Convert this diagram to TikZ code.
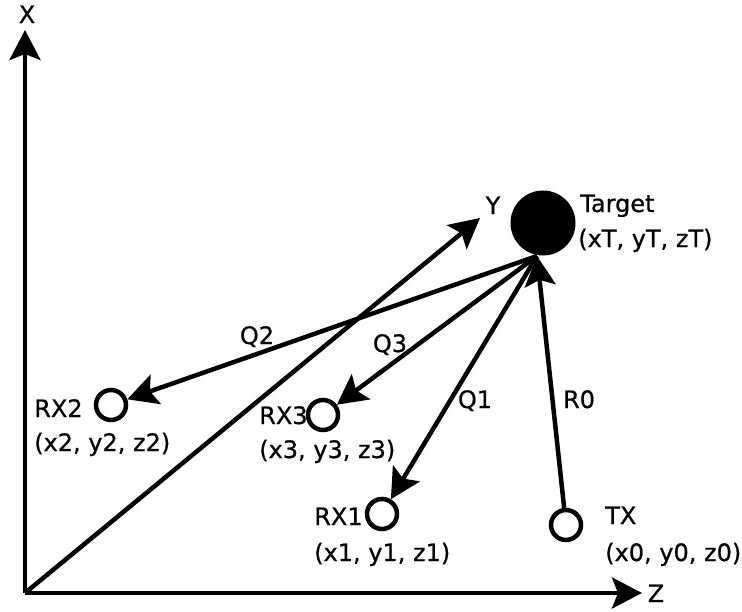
\documentclass[tikz,border=0pt]{standalone}
\usepackage{fontspec}
\setmainfont[FakeBold=0.7]{DejaVu Sans}
\usetikzlibrary{arrows.meta}
\begin{document}
\begin{tikzpicture}[x=1pt,y=-1pt,line width=4.5pt,
  tip/.style={-{Stealth[length=30pt,width=31pt,inset=6pt]}},
  rx/.style={circle,draw,line width=4.5pt,minimum size=30pt,inner sep=0pt},
  lbl/.style={font=\fontsize{24}{34}\selectfont,inner sep=0pt,anchor=base west},
  clbl/.style={font=\fontsize{24}{34}\selectfont,inner sep=0pt,anchor=base}]
\useasboundingbox (0,0) rectangle (742,611);
% axes
\coordinate (O) at (25,593);
\coordinate (xend) at (25,30);
\coordinate (zend) at (642,593);
\coordinate (yend) at (480,218);
\draw[tip] (O) -- (xend);
\draw[tip] (O) -- (zend);
\draw[tip] (O) -- (yend);
\node[clbl] (xl) at (27,23) {X};
\node[clbl] (zl) at (656,602) {Z};
\node[clbl] (yl) at (493,214) {Y};
% target
\node[circle,fill=black,minimum size=65pt,inner sep=0pt] (target) at (543,223) {};
\coordinate (tb) at (537,256);
\node[lbl] (tl1) at (578,212) {Target};
\node[lbl] (tl2) at (576,247) {(xT, yT, zT)};
% receivers
\node[rx] (rx2) at (111,405) {};
\node[rx] (rx3) at (323,415) {};
\node[rx] (rx1) at (382,514) {};
\node[rx] (tx) at (566,525) {};
\node[lbl] (rx2a) at (32,417) {RX2};
\node[lbl] (rx2b) at (32,451) {(x2, y2, z2)};
\node[lbl] (rx3a) at (257,424) {RX3};
\node[lbl] (rx3b) at (257,458) {(x3, y3, z3)};
\node[lbl] (rx1a) at (312,525) {RX1};
\node[lbl] (rx1b) at (312,561) {(x1, y1, z1)};
\node[lbl] (txa) at (603,524) {TX};
\node[lbl] (txb) at (603,561) {(x0, y0, z0)};
% paths
\draw[tip] (tb) -- (rx2);
\draw[tip] (tb) -- (rx3);
\draw[tip] (tb) -- (rx1);
\draw[tip] (tx) -- (tb);
\node[clbl] (q2) at (257,344) {Q2};
\node[clbl] (q3) at (390,352) {Q3};
\node[clbl] (q1) at (475,408) {Q1};
\node[clbl] (r0) at (579,408) {R0};
\end{tikzpicture}
\end{document}
